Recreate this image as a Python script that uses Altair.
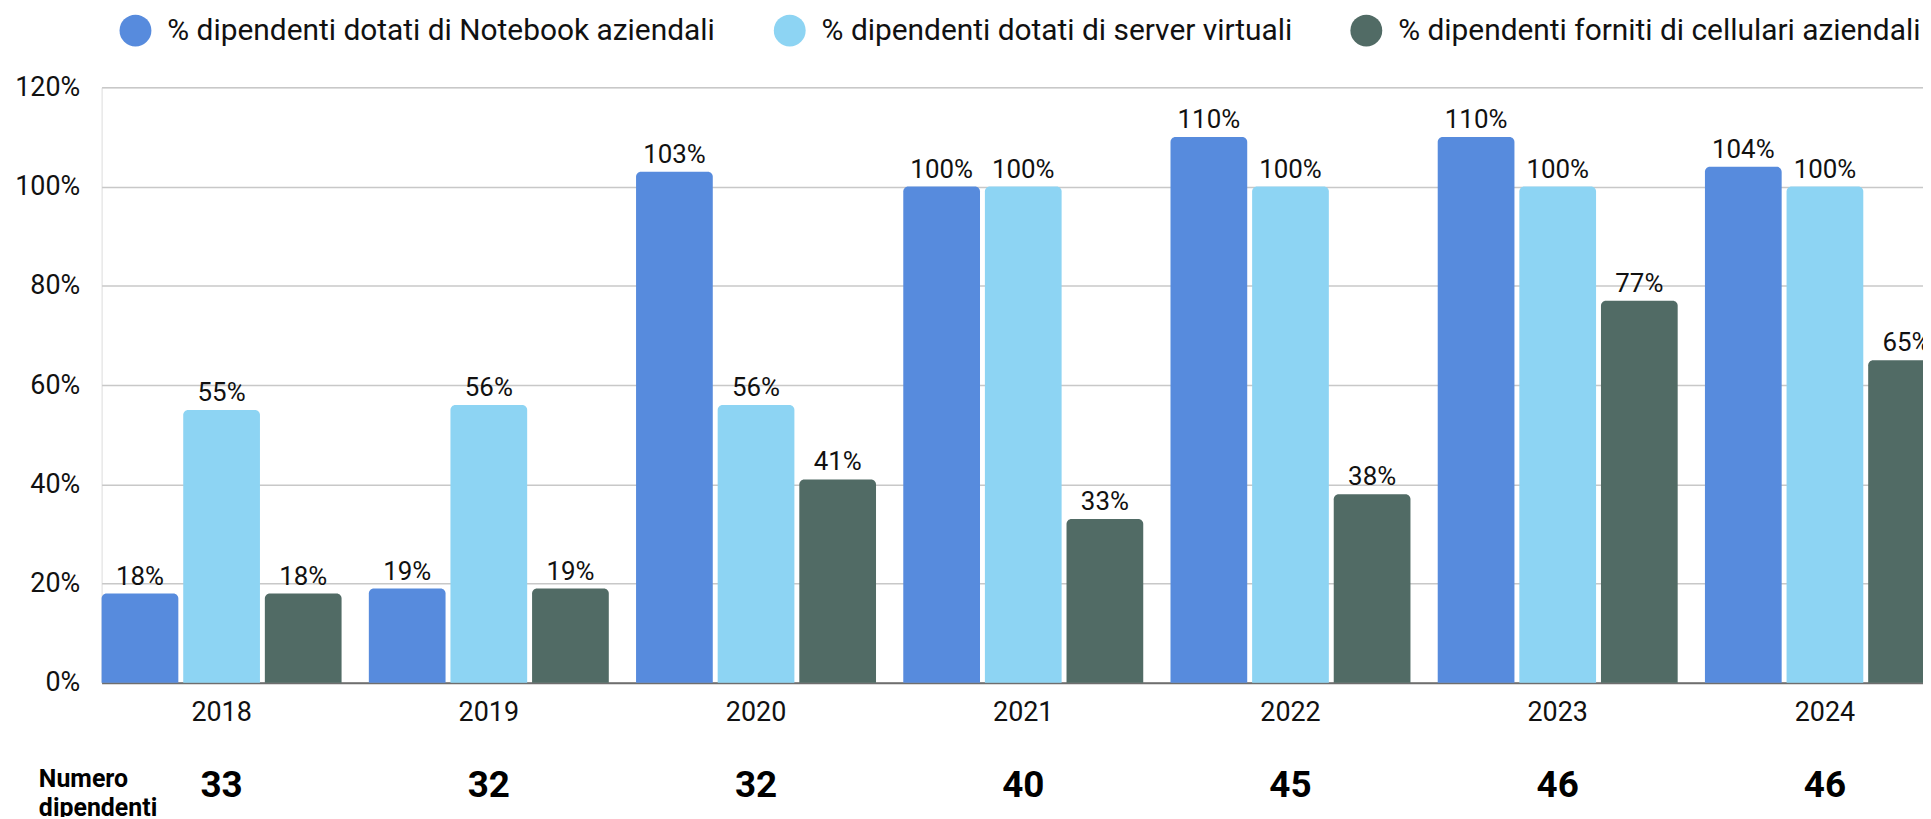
import altair as alt
import pandas as pd

years = ["2018", "2019", "2020", "2021", "2022", "2023", "2024"]
series_names = [
    "% dipendenti dotati di Notebook aziendali",
    "% dipendenti dotati di server virtuali",
    "% dipendenti forniti di cellulari aziendali",
]
notebook = [18, 19, 103, 100, 110, 110, 104]
server = [55, 56, 56, 100, 100, 100, 100]
cellulari = [18, 19, 41, 33, 38, 77, 65]
numero_dipendenti = [33, 32, 32, 40, 45, 46, 46]
numero_title = "Numero\ndipendenti"
colors = ["#578BDD", "#8DD4F3", "#516B65"]
y_ticks = [0, 20, 40, 60, 80, 100, 120]

rows = []
for name, vals in zip(series_names, [notebook, server, cellulari]):
    for y, v in zip(years, vals):
        rows.append({"year": y, "series": name, "value": v})
df = pd.DataFrame(rows)
df_n = pd.DataFrame({"year": years, "n": [str(v) for v in numero_dipendenti]})
df_t = pd.DataFrame({"t": [numero_title]})

FONT = "Roboto"

x_enc = alt.X(
    "year:N",
    sort=years,
    scale=alt.Scale(range=[0, 1851], paddingInner=0.102, paddingOuter=0),
    axis=alt.Axis(
        title=None, labelAngle=0, ticks=False, labelPadding=17,
        labelFontSize=27, labelFont=FONT, labelColor="#111111",
        domainColor="#6e6e6e", domainWidth=2,
    ),
)
xoff = alt.XOffset(
    "series:N", sort=series_names,
    scale=alt.Scale(paddingInner=0.06, paddingOuter=0),
)
y_enc = alt.Y(
    "value:Q",
    stack=None,
    scale=alt.Scale(domain=[0, 120], nice=False),
    axis=alt.Axis(
        title=None, values=y_ticks, ticks=False, domain=False,
        labelExpr="datum.value + '%'", labelPadding=22,
        labelFontSize=27, labelFont=FONT, labelColor="#111111",
        gridColor="#c8c8c8", gridWidth=1.5,
    ),
)
color_enc = alt.Color(
    "series:N", sort=series_names,
    scale=alt.Scale(domain=series_names, range=colors),
    legend=alt.Legend(
        title=None, orient="none", direction="horizontal",
        legendX=18, legendY=-73, padding=0,
        symbolType="circle", symbolSize=1024, symbolStrokeWidth=0,
        symbolOpacity=1,
        labelFont=FONT, labelFontSize=30, labelColor="#111111",
        labelOffset=16, columnPadding=58, labelLimit=900,
    ),
)

base = alt.Chart(df).encode(x=x_enc, xOffset=xoff)

bars = base.mark_bar(
    cornerRadiusTopLeft=5, cornerRadiusTopRight=5, opacity=1
).encode(y=y_enc, color=color_enc)

labels = base.transform_calculate(
    label="datum.value + '%'"
).mark_text(
    font=FONT, fontSize=26, color="#111111", baseline="alphabetic",
    dy=-9,
).encode(y=alt.Y("value:Q", stack=None), text="label:N")

numbers = alt.Chart(df_n).mark_text(
    font=FONT, fontSize=37, fontWeight="bold", color="#000000",
    baseline="middle",
).encode(x=alt.X("year:N", sort=years), y=alt.value(702), text="n:N")

title_txt = alt.Chart(df_t).mark_text(
    font=FONT, fontSize=25, fontWeight="bold", color="#000000",
    align="left", baseline="alphabetic", lineBreak="\n", lineHeight=29,
).encode(x=alt.value(-63), y=alt.value(703), text="t:N")

chart = alt.layer(bars, labels, numbers, title_txt).properties(
    width=1829, height=598,
    padding={"left": 94, "top": 78, "right": 0, "bottom": 133},
    autosize=alt.AutoSizeParams(type="none"),
).configure_view(stroke=None).configure(background="white")

chart.save("out.html", embed_options={"renderer": "svg", "actions": False})
